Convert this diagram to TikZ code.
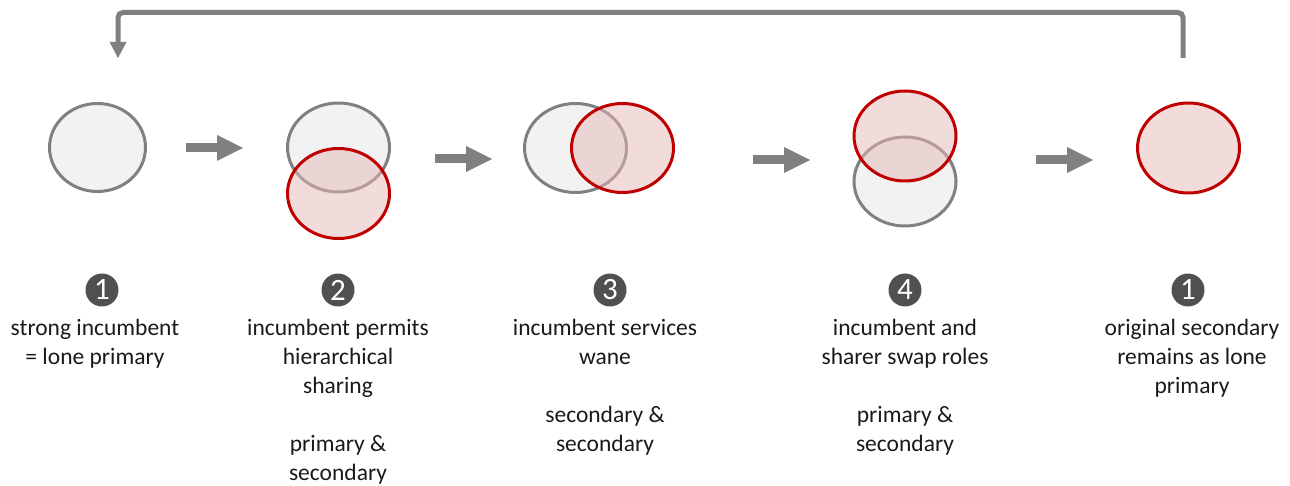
\documentclass[tikz,border=0pt]{standalone}
\usepackage{fontspec}
\setmainfont{Carlito}
\usetikzlibrary{arrows.meta,shapes.geometric}
\definecolor{gline}{HTML}{808080}
\definecolor{gfill}{HTML}{F2F2F2}
\definecolor{rline}{HTML}{C00000}
\definecolor{rfill}{RGB}{230,184,183}
\definecolor{badgecol}{HTML}{505050}
\definecolor{txt}{HTML}{1A1A1A}
\newcommand{\lines}[1]{\begin{tabular}[t]{@{}c@{}}#1\end{tabular}}
\begin{document}
\begin{tikzpicture}[x=1pt,y=-1pt,
  grayell/.style={ellipse, draw=gline, fill=gfill, line width=3pt, inner sep=0pt, minimum width=102pt, minimum height=89pt},
  redell/.style={ellipse, draw=rline, fill=rfill, fill opacity=0.5, line width=3pt, inner sep=0pt, minimum width=102pt, minimum height=89pt},
  blockarrow/.style={draw=gline, line width=9pt, -{Triangle[width=26pt,length=26pt,line width=0pt]}},
  fbarrow/.style={draw=gline, line width=5pt, rounded corners=5pt, -{Triangle[width=17pt,length=16pt,line width=0pt]}},
  badge/.style={circle, fill=badgecol, text=white, inner sep=0pt, minimum size=33pt, font=\fontsize{31}{31}\selectfont},
  label/.style={anchor=base, text=txt, inner sep=0pt, font=\fontsize{23.5}{29}\selectfont}
]
\useasboundingbox (0,0) rectangle (1290,486);

% panel 1
\node[grayell, minimum width=96pt, minimum height=88pt] (p1g) at (97.5,147.5) {};
% panel 2
\node[grayell] (p2g) at (338.5,147.5) {};
\node[redell, minimum height=90pt] (p2r) at (338.5,193.5) {};
% panel 3
\node[grayell] (p3g) at (575.5,148) {};
\node[redell] (p3r) at (622.5,148) {};
% panel 4
\node[grayell] (p4g) at (905,181.5) {};
\node[redell, minimum height=90pt] (p4r) at (905,136) {};
% panel 5
\node[redell, minimum height=90pt] (p5r) at (1188.5,148) {};

% block arrows
\coordinate (a1s) at (186,148); \coordinate (a1e) at (243,148);
\coordinate (a2s) at (435,159); \coordinate (a2e) at (492,159);
\coordinate (a3s) at (753,160); \coordinate (a3e) at (810,160);
\coordinate (a4s) at (1036,160); \coordinate (a4e) at (1093,160);
\draw[blockarrow] (a1s) -- (a1e);
\draw[blockarrow] (a2s) -- (a2e);
\draw[blockarrow] (a3s) -- (a3e);
\draw[blockarrow] (a4s) -- (a4e);

% feedback arrow
\coordinate (fbs) at (1183,58);
\coordinate (fbe) at (118,58);
\draw[fbarrow] (fbs) -- (fbs |- 0,12.5) -- (fbe |- 0,12.5) -- (fbe);

% badges
\node[badge] (b1) at (102,290) {1};
\node[badge] (b2) at (338,290) {2};
\node[badge] (b3) at (610,290) {3};
\node[badge] (b4) at (905,290) {4};
\node[badge] (b5) at (1188,290) {1};

% labels
\node[label] (t1) at (95,335) {\lines{strong incumbent\\= lone primary}};
\node[label] (t2) at (338,335) {\lines{incumbent permits\\hierarchical\\sharing\\[29pt]primary \&\\secondary}};
\node[label] (t3) at (605,335) {\lines{incumbent services\\wane\\[29pt]secondary \&\\secondary}};
\node[label] (t4) at (905,335) {\lines{incumbent and\\sharer swap roles\\[29pt]primary \&\\secondary}};
\node[label] (t5) at (1192,335) {\lines{original secondary\\remains as lone\\primary}};
\end{tikzpicture}
\end{document}
